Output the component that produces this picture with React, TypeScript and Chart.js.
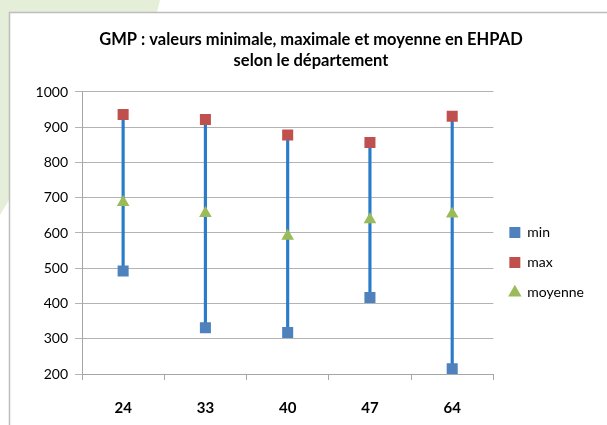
import React, { useEffect, useRef } from "react";
import { Chart, registerables } from "chart.js";

Chart.register(...registerables);

const categories = ["24", "33", "40", "47", "64"];
const minValues = [492, 331, 318, 417, 215];
const maxValues = [936, 922, 878, 857, 931];
const meanValues = [687, 656, 591, 638, 654];
const yTicks = { min: 200, max: 1000, step: 100 };
const titleLines = [
  "GMP : valeurs minimale, maximale et moyenne en EHPAD",
  "selon le département",
];
const seriesNames = ["min", "max", "moyenne"];

const FONT = "Lato, 'Liberation Sans', sans-serif";

const framePlugin = {
  id: "frame",
  beforeDraw(chart: any) {
    const ctx = chart.ctx;
    ctx.save();
    ctx.fillStyle = "#ffffff";
    ctx.fillRect(0, 0, chart.width, chart.height);
    ctx.fillStyle = "#e4eed8";
    ctx.beginPath();
    ctx.moveTo(0, 0);
    ctx.lineTo(160, 0);
    ctx.lineTo(157, 12);
    ctx.lineTo(9, 12);
    ctx.lineTo(9, 200);
    ctx.lineTo(0, 215);
    ctx.closePath();
    ctx.fill();
    ctx.strokeStyle = "#bdbdbd";
    ctx.lineWidth = 1.5;
    ctx.beginPath();
    ctx.moveTo(9.5, chart.height);
    ctx.lineTo(9.5, 12.5);
    ctx.lineTo(chart.width, 12.5);
    ctx.stroke();
    ctx.restore();
  },
};

export default function App() {
  const ref = useRef<HTMLCanvasElement | null>(null);
  useEffect(() => {
    if (!ref.current) return;
    const chart = new Chart(ref.current, {
      type: "bar",
      data: {
        labels: categories,
        datasets: [
          {
            type: "line",
            label: seriesNames[0],
            data: minValues,
            showLine: false,
            pointStyle: "rect",
            pointRadius: 7.8,
            pointBorderWidth: 0,
            backgroundColor: "#4f81bd",
            borderColor: "#4f81bd",
            order: 1,
          },
          {
            type: "line",
            label: seriesNames[1],
            data: maxValues,
            showLine: false,
            pointStyle: "rect",
            pointRadius: 7.8,
            pointBorderWidth: 0,
            backgroundColor: "#c0504d",
            borderColor: "#c0504d",
            order: 1,
          },
          {
            type: "line",
            label: seriesNames[2],
            data: meanValues,
            showLine: false,
            pointStyle: "triangle",
            pointRadius: 7.3,
            pointBorderWidth: 0,
            backgroundColor: "#9bbb59",
            borderColor: "#9bbb59",
            order: 1,
          },
          {
            type: "bar",
            label: "range",
            data: categories.map((_, i) => [minValues[i], maxValues[i]]),
            backgroundColor: "#2a7cca",
            barThickness: 2.5,
            order: 2,
          } as any,
        ],
      },
      options: {
        animation: false,
        responsive: false,
        events: [],
        layout: { padding: { left: 28, right: 13, top: 19, bottom: 0 } },
        plugins: {
          tooltip: { enabled: false },
          title: {
            display: true,
            text: titleLines,
            color: "#000",
            font: { family: FONT, size: 16.5, weight: "bold", lineHeight: 1.2727 },
            padding: { top: 10, bottom: 21 },
          },
          legend: {
            display: true,
            position: "right",
            title: {
              display: true,
              text: " ",
              font: { size: 10, lineHeight: 1 },
              padding: { top: 0, bottom: 71 },
            },
            labels: {
              usePointStyle: true,
              boxWidth: 11,
              boxHeight: 11,
              padding: 16,
              color: "#000",
              font: { family: FONT, size: 14 },
              filter: (item: any) => item.datasetIndex < 3,
            },
          },
        },
        scales: {
          x: {
            offset: true,
            afterFit: (scale: any) => {
              scale.height = 51;
            },
            grid: {
              display: true,
              drawOnChartArea: false,
              drawTicks: true,
              tickLength: 6,
              color: "#a6a6a6",
              offset: true,
            },
            border: { color: "#a6a6a6" },
            ticks: {
              color: "#000",
              padding: 19,
              font: { family: FONT, size: 15, weight: "bold" },
            },
          },
          y: {
            min: yTicks.min,
            max: yTicks.max,
            afterFit: (scale: any) => {
              scale.width = 54;
            },
            grid: { color: "#b3b3b3", tickLength: 7 },
            border: { color: "#a6a6a6" },
            ticks: {
              stepSize: yTicks.step,
              color: "#000",
              padding: 7,
              font: { family: FONT, size: 14 },
              callback: (v: any) => String(v),
            },
          },
        },
      },
      plugins: [framePlugin],
    });
    return () => chart.destroy();
  }, []);
  return (
    <div style={{ position: "absolute", left: 0, top: 0, width: 607, height: 425 }}>
      <canvas ref={ref} width={607} height={425} />
    </div>
  );
}
